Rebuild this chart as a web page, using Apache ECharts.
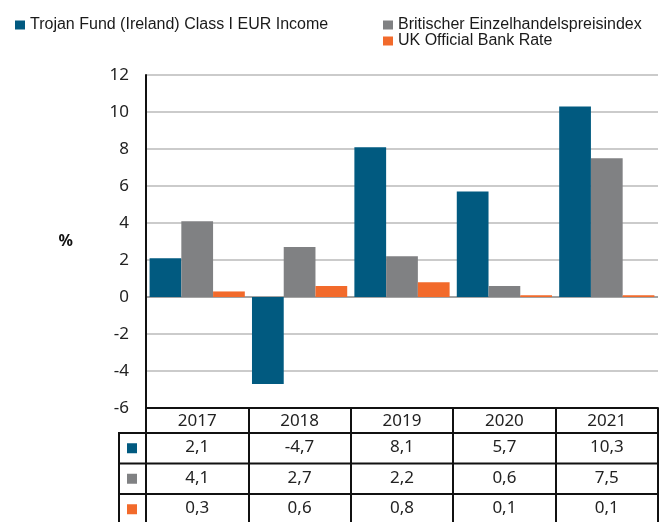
<!DOCTYPE html>
<html>
<head>
<meta charset="utf-8">
<script src="https://cdn.jsdelivr.net/npm/echarts@6.0.0/dist/echarts.min.js"></script>
<style>
  html, body { margin: 0; padding: 0; background: #fff; }
  #chart { width: 659px; height: 522px; }
</style>
</head>
<body>
<div id="chart"></div>
<script>
// data
const years = ['2017', '2018', '2019', '2020', '2021']
const fundName = 'Trojan Fund (Ireland) Class I EUR Income'
const rpiName = 'Britischer Einzelhandelspreisindex'
const rateName = 'UK Official Bank Rate'
const fundValues = [2.1, -4.7, 8.1, 5.7, 10.3]
const rpiValues = [4.1, 2.7, 2.2, 0.6, 7.5]
const rateValues = [0.3, 0.6, 0.8, 0.1, 0.1]

const colors = ['#015a80', '#808183', '#f26a2b']
const labelFont = '"Noto Sans", sans-serif'

const chart = echarts.init(document.getElementById('chart'))

const option = {
  animation: false,
  color: colors,
  grid: { left: 146, right: 1, top: 75, bottom: 114 },
  legend: [{
    data: [fundName],
    left: 10,
    top: 12,
    icon: 'rect',
    itemWidth: 10,
    itemHeight: 9,
    textStyle: { fontFamily: '"Liberation Sans", Arial, sans-serif', fontSize: 16, color: '#1a1a1a' }
  }, {
    data: [rpiName, rateName],
    orient: 'vertical',
    left: 378,
    top: 12,
    itemGap: 0,
    icon: 'rect',
    itemWidth: 10,
    itemHeight: 9,
    textStyle: { fontFamily: '"Liberation Sans", Arial, sans-serif', fontSize: 16, color: '#1a1a1a' }
  }],
  xAxis: {
    type: 'category',
    data: years,
    axisLine: { onZero: false, lineStyle: { color: '#111', width: 2 } },
    axisTick: { show: true, length: 116, lineStyle: { color: '#111', width: 2 } },
    axisLabel: { margin: 5, fontFamily: labelFont, fontSize: 17, color: '#222' }
  },
  yAxis: {
    type: 'value',
    min: -6,
    max: 12,
    interval: 2,
    name: '%',
    nameLocation: 'middle',
    nameRotate: 0,
    nameGap: 73,
    nameTextStyle: { fontFamily: labelFont, fontSize: 16, fontWeight: 'bold', color: '#111', padding: [6, 0, 0, 0] },
    axisLine: { show: true, lineStyle: { color: '#111', width: 2 } },
    axisTick: { show: false },
    axisLabel: { margin: 17, fontFamily: labelFont, fontSize: 17, color: '#222' },
    splitLine: {
      lineStyle: {
        width: 2,
        color: ['#cbcbcb', '#cbcbcb', '#cbcbcb', '#a3a3a3', '#cbcbcb', '#cbcbcb', '#cbcbcb', '#cbcbcb', '#cbcbcb', '#cbcbcb']
      }
    }
  },
  series: [
    { name: fundName, type: 'bar', data: fundValues, barGap: 0, barCategoryGap: '7%' },
    { name: rpiName, type: 'bar', data: rpiValues, barGap: 0, barCategoryGap: '7%' },
    { name: rateName, type: 'bar', data: rateValues, barGap: 0, barCategoryGap: '7%' }
  ]
}

chart.setOption(option)

// data table under the axis
function drawTable () {
  const rows = [fundValues, rpiValues, rateValues]
  const bottomY = chart.convertToPixel({ yAxisIndex: 0 }, -6)
  const x0 = chart.convertToPixel({ xAxisIndex: 0 }, years[0])
  const x1 = chart.convertToPixel({ xAxisIndex: 0 }, years[1])
  const band = x1 - x0
  const leftX = x0 - band / 2
  const rightX = leftX + band * years.length
  const headerH = 25
  const rowH = 30.5
  const keyLeft = leftX - 27
  const els = []

  for (let r = 0; r < rows.length; r++) {
    const top = bottomY + headerH + r * rowH
    els.push({
      type: 'line',
      shape: { x1: keyLeft - 1, y1: top, x2: rightX, y2: top },
      style: { stroke: '#111', lineWidth: 2 }
    })
    els.push({
      type: 'rect',
      shape: { x: keyLeft + 8, y: top + rowH / 2 - 5, width: 10, height: 10 },
      style: { fill: colors[r] }
    })
    rows[r].forEach((v, i) => {
      els.push({
        type: 'text',
        x: x0 + band * i,
        y: top + rowH / 2 - 1,
        style: {
          text: String(v).replace('.', ','),
          fontFamily: labelFont,
          fontSize: 17,
          fill: '#222',
          align: 'center',
          verticalAlign: 'middle'
        }
      })
    })
  }
  els.push({
    type: 'line',
    shape: { x1: keyLeft, y1: bottomY + headerH, x2: keyLeft, y2: 530 },
    style: { stroke: '#111', lineWidth: 2 }
  })
  chart.setOption({ graphic: els })
}

drawTable()
</script>
</body>
</html>
